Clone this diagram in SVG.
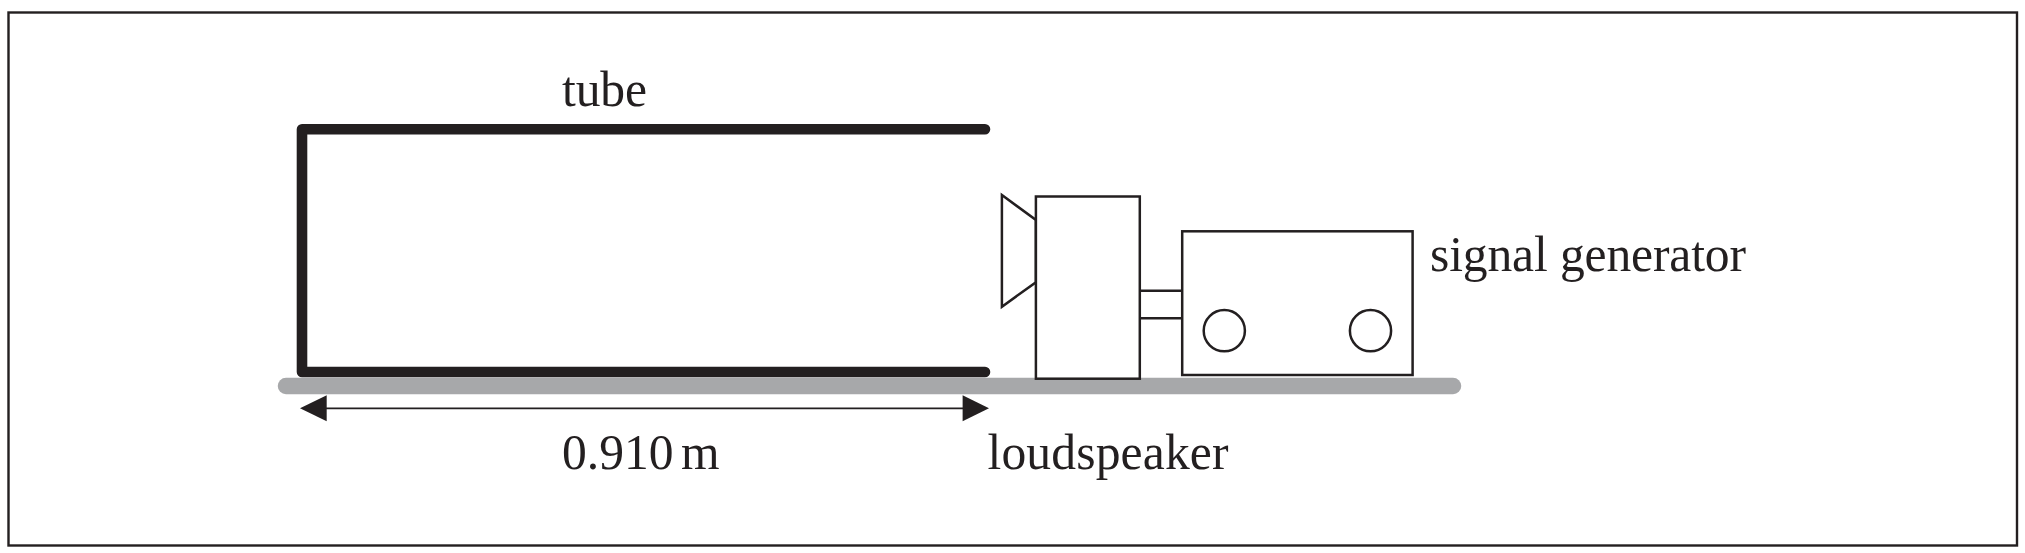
<svg xmlns="http://www.w3.org/2000/svg" width="2025" height="553" viewBox="0 0 2025 553">
<defs>
<style>
text{font-family:"Liberation Serif","Times New Roman",serif;font-size:49.6px;fill:#231f20}
.thin{fill:#fff;stroke:#231f20;stroke-width:2.5}
.line{fill:none;stroke:#231f20;stroke-width:2.5}
</style>
</defs>
<rect width="2025" height="553" fill="#fff"/>
<rect id="frame" x="8.5" y="12.5" width="2008.5" height="533" fill="none" stroke="#231f20" stroke-width="2.4"/>
<g id="bench"><path d="M286 386H1453" fill="none" stroke="#a7a8aa" stroke-width="16.5" stroke-linecap="round"/></g>
<g id="tube">
<path d="M985 129.3H302V372H985" fill="none" stroke="#231f20" stroke-width="10.6" stroke-linecap="round" stroke-linejoin="round"/>
<text x="562" y="106" textLength="85" lengthAdjust="spacing">tube</text>
</g>
<g id="loudspeaker">
<path class="thin" d="M1001.9 195L1035.9 220V282.3L1001.9 306.7Z"/>
<rect class="thin" x="1035.9" y="196.5" width="103.9" height="182.2"/>
<text x="987.5" y="469" textLength="241" lengthAdjust="spacing">loudspeaker</text>
</g>
<g id="signal-generator">
<rect class="thin" x="1182.2" y="231.3" width="230.4" height="143.7"/>
<circle class="thin" cx="1224.3" cy="330.7" r="20.6"/>
<circle class="thin" cx="1370.5" cy="330.7" r="20.6"/>
<text x="1430" y="271" textLength="316" lengthAdjust="spacing">signal generator</text>
</g>
<g id="connectors">
<path class="line" d="M1139.8 290.7H1182.2M1139.8 318.3H1182.2"/>
<path d="M326 408.3H963" fill="none" stroke="#231f20" stroke-width="1.8"/>
<path d="M326.7 395.3L300 408.3L326.7 421.3Z" fill="#231f20"/>
<path d="M962.6 395.3L989 408.3L962.6 421.3Z" fill="#231f20"/>
</g>
<g id="dimension"><text x="562" y="469" word-spacing="-5">0.910 m</text></g>
</svg>
